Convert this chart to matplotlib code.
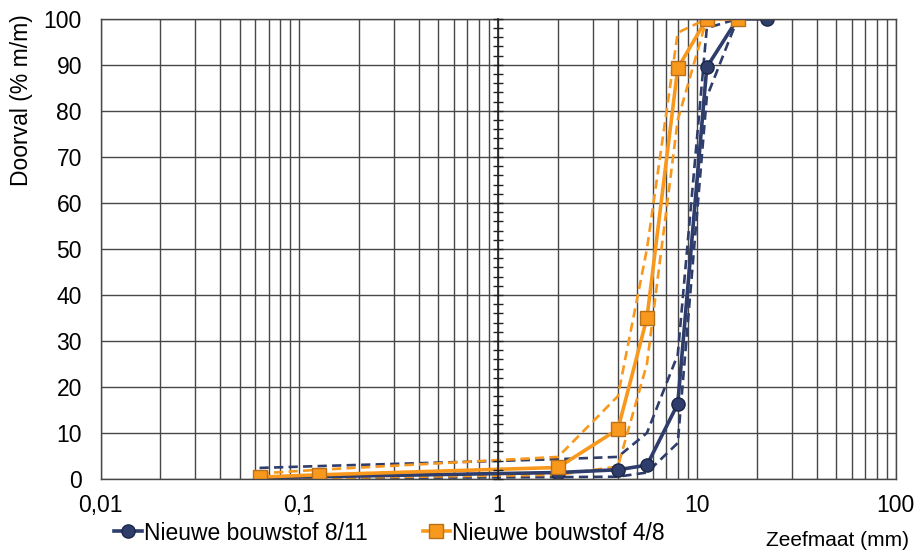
import numpy as np
import matplotlib
matplotlib.use('Agg')
import matplotlib.pyplot as plt
from matplotlib.ticker import FixedLocator, FuncFormatter, NullFormatter

plt.rcParams['font.family'] = ['Liberation Sans', 'DejaVu Sans']

# zeefmaten (mm)
zeef = [0.063, 0.125, 2, 4, 5.6, 8, 11.2, 16, 22.4]

# Nieuwe bouwstof 8/11
doorval_811 = [0.3, 0.5, 1.4, 2.0, 3.0, 16.3, 89.5, 100, 100]
boven_811 = [2.4, 2.8, 4.3, 4.8, 10, 27, 98, 100]
onder_811 = [0.1, 0.2, 0.4, 0.5, 1.4, 7.8, 83, 100]

# Nieuwe bouwstof 4/8
doorval_48 = [0.4, 0.9, 2.5, 10.8, 35, 89.3, 100, 100]
boven_48 = [1.2, 2.0, 4.8, 18, 50, 97, 100, 100]
onder_48 = [0.1, 0.2, 0.9, 2.7, 25, 78, 100, 100]

blauw = '#2E3D6B'
oranje = '#F8981D'
grid_kleur = '#474747'
fs = 16.5

fig = plt.figure(figsize=(9.15, 5.55), dpi=100)
ax = fig.add_axes([0.110, 0.137, 0.869, 0.829])
ax.set_xscale('log')
ax.set_xlim(0.01, 100)
ax.set_ylim(0, 100)

# raster
ax.xaxis.set_major_locator(FixedLocator([0.01, 0.1, 1, 10, 100]))
minor = [m * 10.0 ** e for e in range(-2, 2) for m in range(2, 10)]
ax.xaxis.set_minor_locator(FixedLocator(minor))
ax.xaxis.set_minor_formatter(NullFormatter())
ax.xaxis.set_major_formatter(FuncFormatter(lambda v, p: f'{v:g}'.replace('.', ',')))
ax.set_yticks(np.arange(0, 101, 10))
ax.set_axisbelow(True)
ax.grid(which='both', axis='x', color=grid_kleur, lw=1.0)
ax.grid(which='major', axis='y', color=grid_kleur, lw=1.0)
for s in ax.spines.values():
    s.set_color(grid_kleur)
    s.set_linewidth(1.0)
ax.tick_params(which='both', length=0, labelsize=fs, pad=11)
ax.tick_params(axis='y', pad=13.5)

# grenslijnen (gestreept)
streep = dict(lw=1.9, dashes=(3.5, 2.0))
ax.plot(zeef[:8], boven_811, color=blauw, **streep)
ax.plot(zeef[:8], onder_811, color=blauw, **streep)
ax.plot(zeef[:8], boven_48, color=oranje, **streep)
ax.plot(zeef[:8], onder_48, color=oranje, **streep)

# zeefkrommen
l1, = ax.plot(zeef, doorval_811, color=blauw, lw=2.6, marker='o', ms=9.5,
              mfc=blauw, mec='#1C2645', mew=1.0, label='Nieuwe bouwstof 8/11')
l2, = ax.plot(zeef[:8], doorval_48, color=oranje, lw=2.6, marker='s', ms=9.5,
              mfc=oranje, mec='#B8701A', mew=1.0, label='Nieuwe bouwstof 4/8')

# verticale as bij 1 mm
ax2 = ax.twinx()
ax2.set_ylim(0, 100)
for s in ['top', 'bottom', 'left']:
    ax2.spines[s].set_visible(False)
ax2.spines['right'].set_position(('data', 1))
ax2.spines['right'].set_color('#222222')
ax2.spines['right'].set_linewidth(1.2)
ax2.set_yticks(np.arange(0, 101, 2))
ax2.tick_params(axis='y', direction='inout', length=7, width=1.0,
                color='#222222', labelright=False)

fig.text(22 / 915, 1 - 100 / 555, 'Doorval (% m/m)', rotation=90,
         ha='center', va='center', fontsize=fs)
fig.text(838 / 915, 1 - 541 / 555, 'Zeefmaat (mm)', ha='center', va='center', fontsize=15)

fig.legend(handles=[l1, l2], loc='center left', bbox_to_anchor=(114 / 915, 1 - 533 / 555),
           ncol=2, frameon=False, fontsize=fs, handlelength=1.2, handletextpad=0.1,
           columnspacing=2.4, borderaxespad=0, borderpad=0)

fig.savefig('out.png', dpi=100)
